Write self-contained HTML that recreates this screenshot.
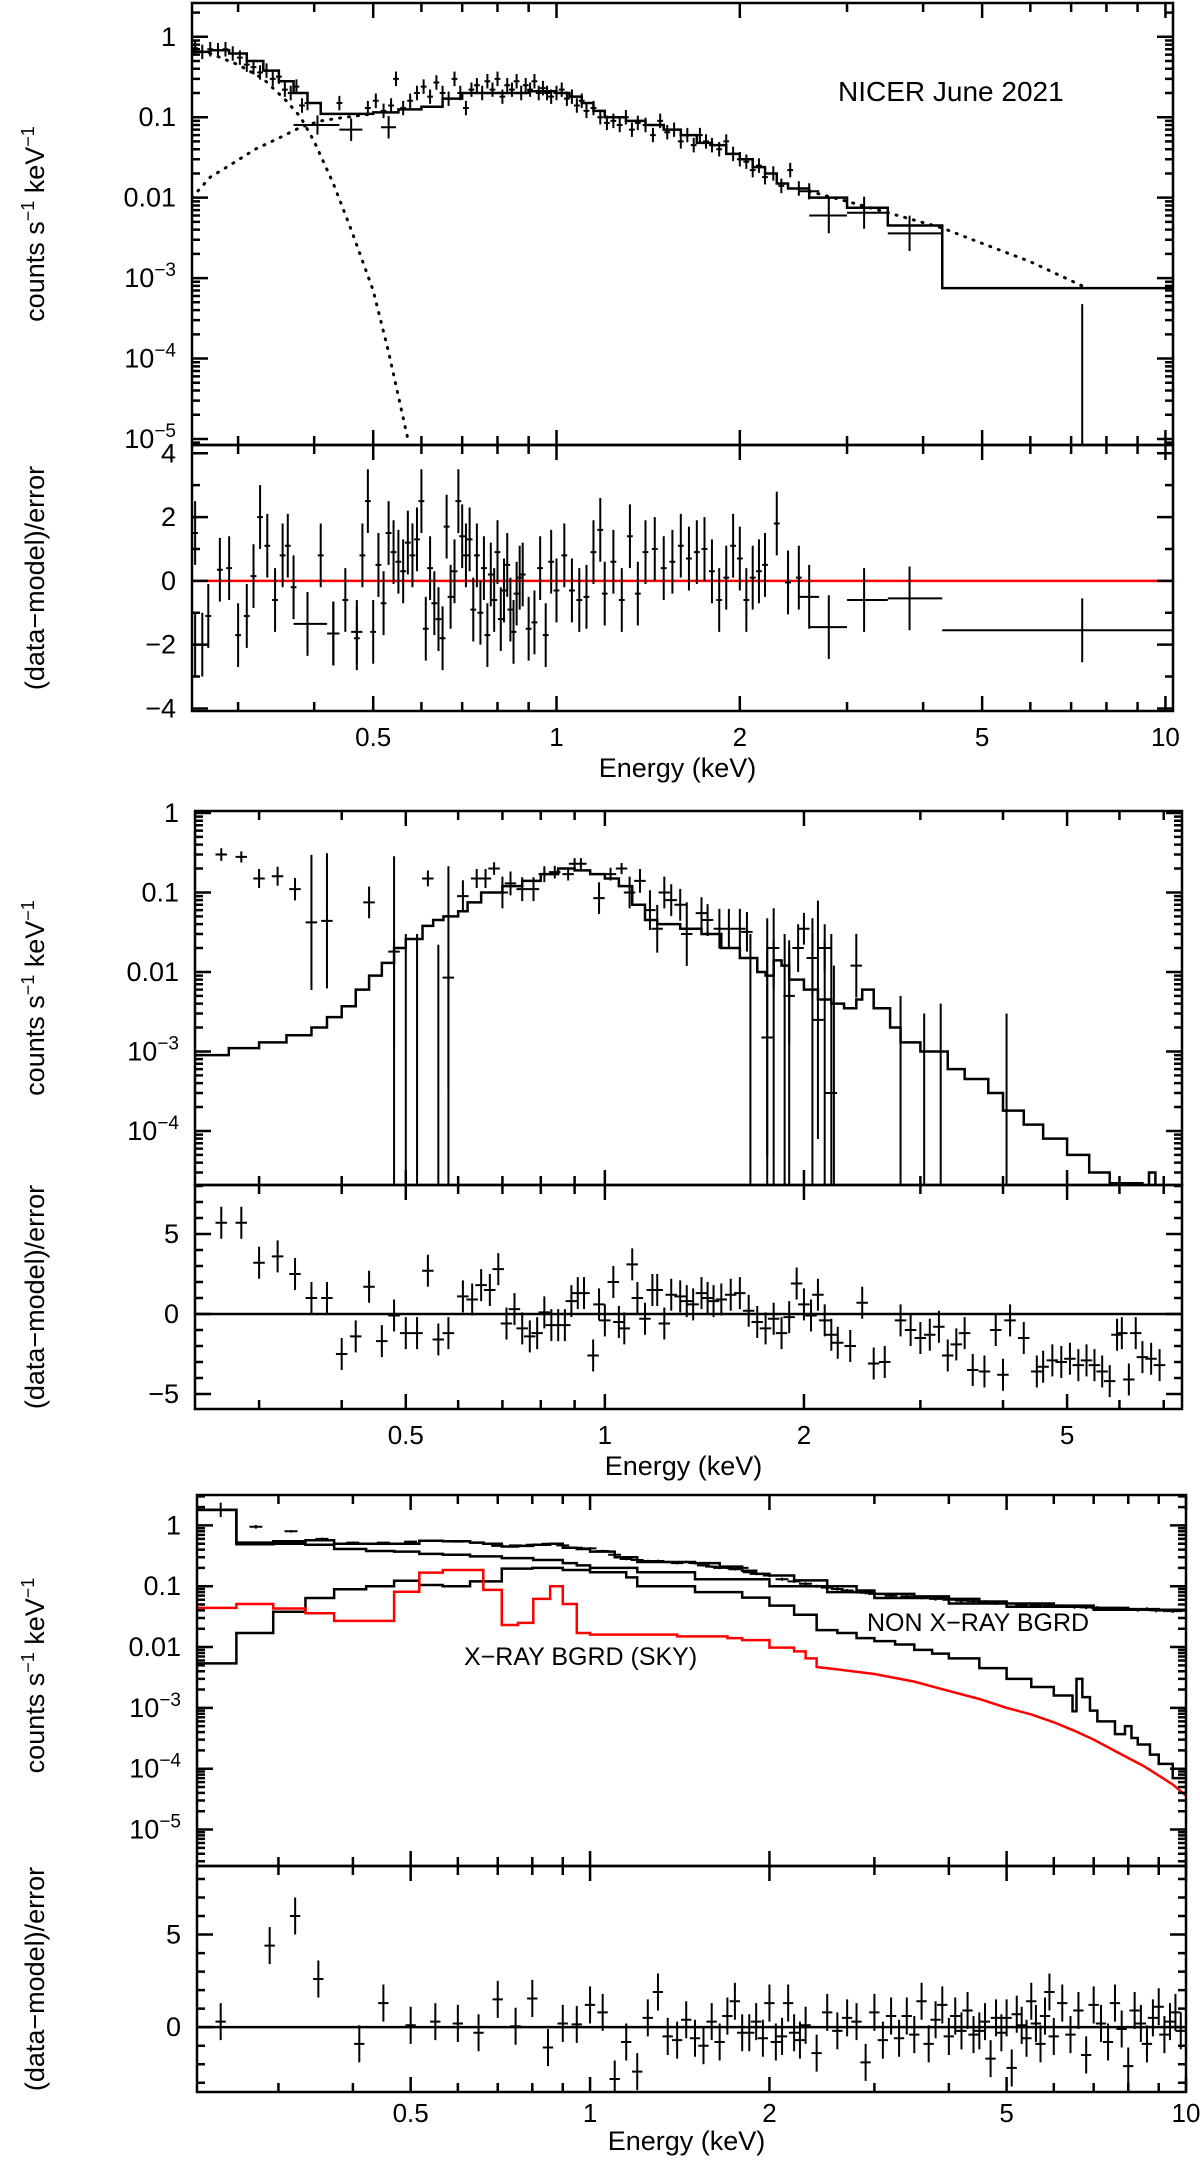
<!DOCTYPE html>
<html><head><meta charset="utf-8"><style>
html,body{margin:0;padding:0;background:#fff;}
svg{display:block;font-family:"Liberation Sans",Arial,sans-serif;}
</style></head><body>
<svg id="chart" xmlns="http://www.w3.org/2000/svg" width="1200" height="2163" viewBox="0 0 1200 2163">
<rect x="0" y="0" width="1200" height="2163" fill="#fff"/>
</svg>
<script>
// ===== Panel 1 data (NICER June 2021) =====
const P1_E=[0.255,0.262,0.27,0.278,0.286,0.294,0.302,0.31,0.318,0.326,0.334,0.342,0.35,0.358,0.366,0.374,0.382,0.39,0.44,0.49,0.505,0.52,0.535,0.545,0.56,0.575,0.59,0.605,0.62,0.635,0.65,0.665,0.68,0.695,0.71,0.725,0.74,0.755,0.77,0.785,0.8,0.815,0.83,0.845,0.86,0.875,0.89,0.905,0.92,0.935,0.95,0.965,0.98,1.0,1.02,1.04,1.06,1.08,1.1,1.12,1.15,1.18,1.21,1.24,1.27,1.3,1.33,1.36,1.4,1.44,1.48,1.52,1.56,1.6,1.64,1.68,1.72,1.76,1.8,1.85,1.9,1.95,2.0,2.05,2.1,2.15,2.2,2.27,2.34,2.42,2.5];
const P1_V=[0.72,0.65,0.7,0.68,0.7,0.62,0.55,0.45,0.42,0.36,0.38,0.3,0.32,0.22,0.2,0.24,0.14,0.15,0.15,0.13,0.16,0.12,0.14,0.3,0.13,0.16,0.2,0.24,0.18,0.27,0.2,0.17,0.3,0.2,0.13,0.22,0.25,0.2,0.28,0.22,0.3,0.18,0.25,0.22,0.28,0.2,0.25,0.22,0.28,0.2,0.23,0.2,0.18,0.2,0.22,0.17,0.18,0.14,0.16,0.12,0.13,0.1,0.085,0.09,0.08,0.1,0.07,0.085,0.08,0.06,0.09,0.065,0.07,0.05,0.06,0.045,0.06,0.05,0.045,0.04,0.05,0.035,0.03,0.028,0.022,0.025,0.018,0.02,0.014,0.022,0.013];
const P1W_E=[0.405,0.46,0.53,2.6,2.8,3.2,3.8,7.3];
const P1W_V=[0.08,0.07,0.075,0.012,0.006,0.0065,0.0036,0.000003];
const P1W_LO=[0.37,0.44,0.515,2.5,2.6,3.0,3.5,4.3];
const P1W_HI=[0.44,0.48,0.545,2.7,3.0,3.5,4.3,10.3];
const P1W_ERR=[0.12,0.14,0.14,0.1,0.22,0.2,0.22,2.2];
const P1M_E=[0.252,0.27,0.29,0.31,0.33,0.35,0.37,0.39,0.41,0.45,0.5,0.55,0.6,0.65,0.7,0.8,0.9,1.0,1.05,1.1,1.15,1.2,1.3,1.4,1.5,1.6,1.7,1.8,1.9,2.0,2.1,2.2,2.3,2.4,2.6,3.0,3.5,4.3,10.3];
const P1M_V=[0.65,0.68,0.62,0.5,0.38,0.28,0.2,0.15,0.11,0.11,0.115,0.125,0.135,0.17,0.2,0.2,0.21,0.2,0.18,0.15,0.12,0.1,0.09,0.08,0.07,0.06,0.048,0.045,0.035,0.03,0.024,0.02,0.015,0.013,0.01,0.0075,0.0045,0.00075];
const P1BB_E=[0.252,0.27,0.3,0.33,0.36,0.38,0.4,0.43,0.46,0.5,0.53,0.57];
const P1BB_V=[0.68,0.62,0.45,0.3,0.16,0.1,0.05,0.015,0.004,0.0007,0.00012,0.00001];
const P1PL_E=[0.252,0.27,0.29,0.32,0.35,0.38,0.41,0.45,0.5,2.6,3.0,3.5,4.3,5.0,6.0,7.3];
const P1PL_V=[0.01,0.018,0.025,0.04,0.055,0.075,0.09,0.1,0.11,0.012,0.009,0.0065,0.0042,0.0027,0.0016,0.0008];
const P1R_E=[0.255,0.262,0.268,0.28,0.29,0.3,0.31,0.318,0.326,0.335,0.345,0.355,0.362,0.37,0.41,0.43,0.45,0.47,0.48,0.49,0.5,0.51,0.52,0.53,0.54,0.55,0.56,0.57,0.58,0.59,0.6,0.61,0.62,0.63,0.64,0.65,0.66,0.67,0.68,0.69,0.7,0.71,0.72,0.73,0.74,0.75,0.76,0.77,0.78,0.79,0.8,0.81,0.82,0.83,0.84,0.85,0.86,0.87,0.88,0.9,0.92,0.94,0.96,0.98,1.0,1.03,1.06,1.09,1.12,1.15,1.18,1.2,1.24,1.28,1.32,1.36,1.4,1.45,1.5,1.55,1.6,1.65,1.7,1.75,1.8,1.85,1.9,1.95,2.0,2.05,2.1,2.15,2.2,2.3,2.4,2.5];
const P1R_V=[1.5,-2.0,-1.1,0.35,0.4,-1.7,-1.1,0.15,2.0,1.1,-0.6,0.8,1.1,-0.2,0.8,-1.65,-0.6,-1.8,0.8,2.5,-1.6,0.5,-0.7,1.5,0.9,0.6,0.3,1.2,0.8,1.3,2.5,-1.5,0.4,-0.7,-1.2,-1.8,1.7,-0.5,0.3,2.5,1.4,0.8,1.3,-0.9,0.8,-1.0,0.4,-1.7,0.2,-0.6,0.9,-1.2,-0.3,0.5,-0.9,-1.6,-0.4,0.1,0.2,-1.5,-1.3,0.4,-1.7,0.6,-0.3,0.8,-0.3,-0.6,-0.5,0.9,1.6,-0.4,0.6,-0.6,1.4,-0.4,0.9,1.0,0.4,0.6,1.1,0.7,0.9,1.0,0.3,-0.6,0.1,1.1,0.7,-0.6,0.1,0.3,0.5,1.8,-0.05,0.1];
const P1RW_E=[0.255,0.39,0.43,0.47,2.6,2.8,3.2,3.8,7.3];
const P1RW_V=[-2.0,-1.35,-1.65,-1.6,-0.5,-1.45,-0.6,-0.55,-1.55];
const P1RW_LO=[0.252,0.37,0.42,0.46,2.5,2.6,3.0,3.5,4.3];
const P1RW_HI=[0.26,0.42,0.44,0.48,2.7,3.0,3.5,4.3,10.3];

// ===== Panel 2 data =====
const P2_E=[0.263,0.282,0.30,0.32,0.34,0.36,0.38,0.44,0.48,0.54,0.58,0.61,0.64,0.66,0.68,0.70,0.72,0.75,0.78,0.81,0.84,0.88,0.90,0.92,0.98,1.02,1.06,1.09,1.13,1.17,1.2,1.23,1.26,1.3,1.33,1.4,1.43,1.49,1.54,1.6,1.64,1.76,1.8,1.9,1.96,2.0,2.06,2.1,2.15,2.2,2.4];
const P2_V=[0.3,0.28,0.15,0.16,0.11,0.042,0.044,0.075,0.018,0.15,0.0085,0.09,0.15,0.15,0.2,0.1,0.13,0.11,0.11,0.17,0.18,0.17,0.23,0.23,0.085,0.17,0.2,0.1,0.14,0.06,0.035,0.1,0.08,0.07,0.03,0.055,0.045,0.035,0.035,0.035,0.032,0.0015,0.02,0.005,0.02,0.035,0.015,0.0025,0.02,0.0003,0.012];
const P2_ERR=[0.08,0.07,0.12,0.12,0.14,0.85,0.85,0.2,1.2,0.1,1.4,0.2,0.12,0.12,0.08,0.2,0.15,0.15,0.15,0.1,0.08,0.08,0.07,0.07,0.2,0.08,0.07,0.2,0.15,0.25,0.3,0.2,0.2,0.2,0.4,0.2,0.2,0.25,0.25,0.25,0.25,1.5,0.5,0.6,0.3,0.2,0.5,1.5,0.3,2,0.4];
const P2L_E=[0.48,0.5,0.52,0.56,0.58,1.66,1.76,1.8,1.87,1.9,2.06,2.15,2.22,2.8,3.04,3.22,4.05];
const P2L_TOP=[0.025,0.03,0.03,0.022,0.015,0.03,0.02,0.025,0.03,0.025,0.03,0.025,0.012,0.005,0.003,0.004,0.003];
const P2M_E=[0.24,0.27,0.3,0.33,0.36,0.38,0.40,0.42,0.44,0.46,0.48,0.5,0.53,0.55,0.57,0.6,0.62,0.65,0.7,0.75,0.8,0.85,0.9,0.95,1.0,1.05,1.1,1.15,1.2,1.3,1.4,1.5,1.6,1.7,1.75,1.8,1.85,1.9,2.0,2.1,2.2,2.3,2.4,2.45,2.55,2.7,2.8,3.0,3.3,3.5,3.8,4.0,4.3,4.6,5.0,5.4,5.8,6.5,6.65,6.8,7.46];
const P2M_V=[0.0009,0.0011,0.0013,0.0016,0.002,0.0027,0.0037,0.006,0.009,0.013,0.02,0.026,0.038,0.045,0.05,0.058,0.075,0.1,0.12,0.14,0.17,0.2,0.19,0.17,0.15,0.12,0.07,0.045,0.04,0.035,0.03,0.02,0.015,0.01,0.009,0.014,0.012,0.008,0.006,0.0045,0.004,0.0035,0.0045,0.006,0.0035,0.002,0.0013,0.001,0.0006,0.00045,0.0003,0.00018,0.00012,0.00008,0.00005,0.00003,0.000022,0.000015,0.00003,0.000015];
const P2R_E=[0.263,0.282,0.30,0.32,0.34,0.36,0.38,0.40,0.42,0.44,0.46,0.48,0.50,0.52,0.54,0.56,0.58,0.61,0.63,0.65,0.67,0.69,0.71,0.73,0.75,0.77,0.79,0.81,0.83,0.85,0.87,0.89,0.91,0.93,0.96,0.98,1.0,1.03,1.05,1.07,1.10,1.12,1.15,1.18,1.2,1.23,1.26,1.3,1.33,1.36,1.4,1.43,1.46,1.5,1.55,1.6,1.65,1.7,1.75,1.8,1.85,1.9,1.95,2.0,2.05,2.1,2.15,2.2,2.25,2.35,2.45,2.55,2.65,2.8,2.9,3.0,3.1,3.2,3.3,3.4,3.5,3.6,3.75,3.9,4.0,4.1,4.3,4.5,4.6,4.75,4.9,5.05,5.2,5.35,5.5,5.65,5.8,5.95,6.05,6.2,6.35,6.5,6.7,6.9];
const P2R_V=[5.7,5.7,3.2,3.6,2.5,1.0,1.0,-2.5,-1.4,1.7,-1.7,-0.1,-1.2,-1.2,2.7,-1.6,-1.2,1.1,0.9,1.8,1.5,2.8,-0.6,0.3,-0.9,-1.4,-1.2,0.1,-0.7,-0.7,-0.7,0.8,1.3,1.3,-2.6,0.6,-0.4,2.0,-0.5,-0.9,3.1,1.0,-0.3,1.5,1.5,-0.6,1.2,1.1,0.8,0.6,1.3,1.0,0.8,0.9,1.2,1.3,0.2,-0.5,-0.9,-0.3,-1.2,-0.2,1.9,0.6,-0.1,1.2,-0.4,-1.3,-1.8,-2.0,0.7,-3.1,-3.0,-0.4,-1.0,-1.5,-1.3,-0.8,-2.6,-1.9,-1.2,-3.5,-3.6,-1.0,-3.8,-0.4,-1.5,-3.6,-3.3,-2.9,-3.0,-2.8,-3.2,-2.9,-3.2,-3.6,-4.2,-1.3,-1.2,-4.1,-1.2,-2.7,-2.8,-3.2];

// ===== Panel 3 data =====
const P3_E=[0.24,0.275,0.315,0.355,0.4,0.45,0.5,0.55,0.6,0.65,0.7,0.75,0.8,0.85,0.9,0.95,1.0,1.05,1.1,1.15,1.2,1.25,1.3,1.35,1.4,1.45,1.5,1.55,1.6,1.65,1.7,1.75,1.8,1.85,1.9,1.95,2.0,2.1,2.2,2.3,2.4,2.5,2.6,2.7,2.8,2.9,3.0,3.2,3.4,3.6,3.8,4.0,4.2,4.4,4.6,4.8,5.0,5.3,5.6,5.9,6.2,6.5,6.8,7.1,7.4,7.7,8.0,8.3,8.6,8.9,9.2,9.5,9.8];
const P3_V=[1.8,0.95,0.8,0.6,0.52,0.52,0.54,0.56,0.54,0.52,0.46,0.47,0.48,0.5,0.47,0.43,0.42,0.38,0.33,0.28,0.27,0.26,0.26,0.25,0.24,0.25,0.24,0.22,0.21,0.2,0.2,0.19,0.2,0.17,0.16,0.16,0.15,0.13,0.12,0.11,0.1,0.095,0.09,0.085,0.08,0.078,0.075,0.07,0.068,0.065,0.062,0.06,0.058,0.057,0.055,0.053,0.052,0.05,0.05,0.048,0.047,0.046,0.045,0.044,0.043,0.043,0.042,0.041,0.042,0.04,0.04,0.039,0.04];
const P3_ERR=[0.12,0.03,0.02,0.02,0.02,0.015,0.015,0.015,0.015,0.015,0.015,0.015,0.015,0.015,0.015,0.015,0.02,0.02,0.02,0.02,0.02,0.02,0.02,0.02,0.02,0.02,0.02,0.02,0.02,0.02,0.02,0.02,0.02,0.02,0.02,0.02,0.025,0.025,0.025,0.025,0.025,0.025,0.025,0.025,0.025,0.025,0.03,0.03,0.03,0.03,0.03,0.03,0.03,0.03,0.03,0.03,0.03,0.03,0.03,0.03,0.03,0.03,0.03,0.03,0.03,0.03,0.03,0.03,0.03,0.03,0.03,0.03,0.03];
const P3T_E=[0.219,0.255,0.294,0.333,0.372,0.421,0.469,0.517,0.566,0.629,0.662,0.711,0.757,0.803,0.857,0.9,0.95,1.0,1.1,1.2,1.35,1.5,1.65,1.8,1.9,2.0,2.2,2.5,2.8,3.0,3.5,4.0,4.5,5.0,6.0,7.0,8.0,9.0,10.0];
const P3T_V=[1.8,0.52,0.55,0.57,0.5,0.5,0.5,0.56,0.55,0.52,0.5,0.45,0.46,0.48,0.5,0.43,0.41,0.37,0.3,0.25,0.25,0.24,0.21,0.18,0.16,0.15,0.125,0.1,0.085,0.075,0.068,0.062,0.056,0.052,0.048,0.044,0.042,0.04];
const P3N_E=[0.219,0.255,0.294,0.333,0.372,0.421,0.469,0.517,0.566,0.629,0.711,0.803,0.9,0.95,1.0,1.2,1.5,2.0,2.5,3.0,4.0,5.0,7.0,10.0];
const P3N_V=[1.8,0.49,0.5,0.48,0.41,0.38,0.37,0.34,0.33,0.31,0.29,0.27,0.24,0.22,0.2,0.17,0.13,0.1,0.08,0.064,0.052,0.046,0.041];
const P3S_E=[0.219,0.255,0.294,0.333,0.372,0.421,0.469,0.517,0.566,0.629,0.711,0.8,0.9,1.0,1.15,1.2,1.5,1.8,2.0,2.2,2.4,2.6,2.8,3.0,3.25,3.5,3.75,4.0,4.5,5.0,5.5,6.0,6.45,6.55,6.7,6.9,7.1,7.6,7.9,8.1,8.3,8.7,9.0,9.5,10.0];
const P3S_V=[0.0054,0.017,0.038,0.064,0.089,0.1,0.123,0.105,0.1,0.12,0.195,0.2,0.185,0.17,0.14,0.1,0.08,0.065,0.048,0.034,0.019,0.017,0.014,0.0125,0.011,0.009,0.0078,0.0065,0.0045,0.003,0.0022,0.0016,0.00088,0.003,0.0015,0.0009,0.0006,0.00037,0.0005,0.00032,0.00025,0.00017,0.00012,0.00007];
const P3X_E=[0.219,0.255,0.294,0.333,0.372,0.469,0.517,0.566,0.662,0.711,0.757,0.803,0.857,0.9,0.95,1.0,1.4,1.7,1.8,2.0,2.2,2.3,2.4];
const P3X_V=[0.044,0.051,0.043,0.036,0.027,0.081,0.167,0.185,0.087,0.023,0.025,0.062,0.1,0.051,0.017,0.016,0.015,0.014,0.013,0.0098,0.0085,0.0065];
const P3XC_E=[2.4,2.6,3.0,3.5,4.0,4.5,5.0,5.5,6.0,6.5,7.0,7.5,8.0,8.5,9.0,9.5,10.0];
const P3XC_V=[0.0047,0.0043,0.0036,0.0027,0.0019,0.0014,0.001,0.00078,0.00058,0.00042,0.0003,0.00021,0.00015,0.00011,0.000077,0.000055,0.000036];
const P3R_E=[0.24,0.29,0.32,0.35,0.41,0.45,0.5,0.55,0.6,0.65,0.7,0.75,0.8,0.85,0.9,0.95,1.0,1.05,1.1,1.15,1.2,1.25,1.3,1.35,1.4,1.45,1.5,1.55,1.6,1.65,1.7,1.75,1.8,1.85,1.9,1.95,2.0,2.05,2.1,2.15,2.2,2.25,2.3,2.4,2.5,2.6,2.7,2.8,2.9,3.0,3.1,3.2,3.3,3.4,3.5,3.6,3.7,3.8,3.9,4.0,4.1,4.2,4.3,4.4,4.5,4.6,4.7,4.8,4.9,5.0,5.1,5.2,5.3,5.4,5.5,5.6,5.7,5.8,5.9,6.0,6.2,6.4,6.6,6.8,7.0,7.2,7.4,7.6,7.8,8.0,8.2,8.4,8.6,8.8,9.0,9.2,9.4,9.6,9.8];
const P3R_V=[0.3,4.4,6.0,2.6,-0.9,1.3,0.1,0.3,0.2,-0.3,1.5,0.05,1.55,-1.1,0.2,0.15,1.2,0.8,-2.8,-0.8,-2.4,0.5,1.9,-0.5,-0.7,0.4,-0.6,-1.0,0.3,-0.8,0.6,1.4,-0.3,-0.3,0.3,-0.6,1.3,-0.8,-0.5,1.3,-0.3,-0.7,0.1,-1.4,0.8,-0.2,0.5,0.3,-1.9,0.8,-0.7,0.6,-0.6,0.6,-0.4,1.4,-0.9,0.4,1.2,-0.5,0.6,-0.2,0.9,-0.4,-0.2,0.3,-1.7,0.5,-0.3,0.5,-2.2,0.7,0.1,-0.6,1.4,0.2,-0.9,0.6,1.9,-0.5,1.3,-0.4,0.9,-1.5,1.2,0.2,-0.8,1.3,-0.1,-2.1,0.9,0.2,-0.9,0.5,1.1,-0.4,0.3,0.8,-0.2];

// ===== drawing helpers =====
const NS="http://www.w3.org/2000/svg";
const svg=document.getElementById('chart');
function mk(tag,parent){const e=document.createElementNS(NS,tag);(parent||svg).appendChild(e);return e;}
function logx(cfg,E){return cfg.L+(Math.log10(E)-Math.log10(cfg.xmin))/(Math.log10(cfg.xmax)-Math.log10(cfg.xmin))*(cfg.R-cfg.L);}
function logy(cfg,v){return cfg.mid-(Math.log10(v)-cfg.ylo)/(cfg.yhi-cfg.ylo)*(cfg.mid-cfg.T);}
function resy(cfg,v){return cfg.B-(v-cfg.rlo)/(cfg.rhi-cfg.rlo)*(cfg.B-cfg.mid);}

function frame(cfg,g,yt,rt,xl){
  [[cfg.T,cfg.mid],[cfg.mid,cfg.B]].forEach((s,i)=>{
    const r=mk('rect',g);r.setAttribute('x',cfg.L);r.setAttribute('y',s[0]);r.setAttribute('width',cfg.R-cfg.L);r.setAttribute('height',s[1]-s[0]);
    r.setAttribute('fill','none');r.setAttribute('stroke','#000');r.setAttribute('stroke-width','2.5');
    
    
  });
  let d='';
  const xt=[0.2,0.3,0.4,0.5,0.6,0.7,0.8,0.9,1,2,3,4,5,6,7,8,9,10];
  xt.forEach(e=>{ if(e<cfg.xmin||e>cfg.xmax*1.001) return; const x=logx(cfg,e); const maj=[0.5,1,2,5,10].indexOf(e)>=0; const L=maj?15:9;
    [cfg.T,cfg.mid,cfg.B].forEach((y,i)=>{ if(i<2) d+=`M${x},${y}v${L}`; if(i>0) d+=`M${x},${y}v${-L}`; });
  });
  for(let dec=Math.floor(cfg.ylo);dec<=Math.ceil(cfg.yhi);dec++){
    for(let m=1;m<10;m++){const lv=dec+Math.log10(m); if(lv<cfg.ylo||lv>cfg.yhi) continue; const y=logy(cfg,Math.pow(10,lv)); const L=m===1?16:8;
      d+=`M${cfg.L},${y}h${L}M${cfg.R},${y}h${-L}`;}
  }
  for(let v=Math.ceil(cfg.rlo);v<=cfg.rhi;v++){const y=resy(cfg,v); const L=(v%cfg.rstep===0)?16:8; d+=`M${cfg.L},${y}h${L}M${cfg.R},${y}h${-L}`;}
  const p=mk('path',g);p.setAttribute('d',d);p.setAttribute('stroke','#000');p.setAttribute('stroke-width','2.5');p.setAttribute('fill','none');
  
  
  yt.forEach(t=>{const y=logy(cfg,Math.pow(10,t[0])); const tx=mk('text',g); tx.setAttribute('x',cfg.L-16); tx.setAttribute('y',y+9); tx.setAttribute('font-size','27'); tx.setAttribute('text-anchor','end');
    if(t[1]){tx.textContent='10'; const s=mk('tspan',tx); s.setAttribute('font-size','19'); s.setAttribute('dy','-11'); s.textContent=t[1];}
    else tx.textContent=t[2];
    
    });
  rt.forEach(t=>{const y=resy(cfg,t[0]); const tx=mk('text',g); tx.setAttribute('x',cfg.L-16); tx.setAttribute('y',y+9); tx.setAttribute('font-size','27'); tx.setAttribute('text-anchor','end'); tx.textContent=t[1];
    
    });
  xl.forEach(t=>{const x=logx(cfg,t[0]); const tx=mk('text',g); tx.setAttribute('x',x); tx.setAttribute('y',cfg.B+cfg.tlOff); tx.setAttribute('font-size','26'); tx.setAttribute('text-anchor','middle'); tx.textContent=t[1];
    
    });
  const xtitle=mk('text',g); xtitle.setAttribute('x',(cfg.L+cfg.R)/2-5); xtitle.setAttribute('y',cfg.B+cfg.xtOff); xtitle.setAttribute('font-size','27'); xtitle.setAttribute('text-anchor','middle'); xtitle.textContent='Energy (keV)';
  
  
  const yc=(cfg.T+cfg.mid)/2+cfg.ylabOff; const yl=mk('text',g); yl.setAttribute('transform',`translate(44,${yc}) rotate(-90)`); yl.setAttribute('font-size','27'); yl.setAttribute('text-anchor','middle');
  yl.textContent='counts s'; const s1=mk('tspan',yl); s1.setAttribute('font-size','18'); s1.setAttribute('dy','-10'); s1.textContent='−1';
  const s2=mk('tspan',yl); s2.setAttribute('dy','10'); s2.textContent=' keV'; const s3=mk('tspan',yl); s3.setAttribute('font-size','18'); s3.setAttribute('dy','-10'); s3.textContent='−1';
  
  
  const rl=mk('text',g); rl.setAttribute('transform',`translate(44,${(cfg.mid+cfg.B)/2}) rotate(-90)`); rl.setAttribute('font-size','27'); rl.setAttribute('text-anchor','middle'); rl.textContent='(data−model)/error';
  
  
}
function clip(cfg,id,y0,y1){const c=mk('clipPath');c.setAttribute('id',id);const r=mk('rect',c);r.setAttribute('x',cfg.L);r.setAttribute('y',y0);r.setAttribute('width',cfg.R-cfg.L);r.setAttribute('height',y1-y0);return `url(#${id})`;}
function stepPath(cfg,E,V){let d=`M${logx(cfg,E[0])},${logy(cfg,V[0])}`;for(let i=0;i<V.length;i++){d+=`H${logx(cfg,E[i+1])}`;if(i+1<V.length)d+=`V${logy(cfg,V[i+1])}`;}return d;}
function linePath(cfg,E,V){return E.map((e,i)=>(i?'L':'M')+logx(cfg,e)+','+logy(cfg,V[i])).join('');}
function addPath(g,d,color,w,dash,name){const p=mk('path',g);p.setAttribute('d',d);p.setAttribute('stroke',color);p.setAttribute('stroke-width',w);p.setAttribute('fill','none');if(dash){p.setAttribute('stroke-dasharray',dash);p.setAttribute('stroke-linecap','round');}
  
  return p;}
function crossesLog(cfg,E,V,ERR,hw,lo,hi){let d='';E.forEach((e,i)=>{const x0=lo?logx(cfg,lo[i]):logx(cfg,e*(1-hw)),x1=hi?logx(cfg,hi[i]):logx(cfg,e*(1+hw));const y=logy(cfg,V[i]);const er=ERR[i];
  const ya=logy(cfg,V[i]*Math.pow(10,er)), yb=Math.min(logy(cfg,V[i]/Math.pow(10,er*1.0)),cfg.mid);
  d+=`M${x0},${y}H${x1}M${logx(cfg,e)},${ya}V${yb}`;});return d;}
function crossesRes(cfg,E,V,err,hw,lo,hi){let d='';E.forEach((e,i)=>{const x0=lo?logx(cfg,lo[i]):logx(cfg,e*(1-hw)),x1=hi?logx(cfg,hi[i]):logx(cfg,e*(1+hw));const y=resy(cfg,V[i]);
  d+=`M${x0},${y}H${x1}M${logx(cfg,e)},${resy(cfg,V[i]+err)}V${resy(cfg,V[i]-err)}`;});return d;}
function zeroLine(cfg,g,color){const l=mk('line',g);l.setAttribute('x1',cfg.L);l.setAttribute('x2',cfg.R);l.setAttribute('y1',resy(cfg,0));l.setAttribute('y2',resy(cfg,0));l.setAttribute('stroke',color);l.setAttribute('stroke-width','2.5');
  
  }
function const1(n,v){return new Array(n).fill(v);}

// ===== Panel 1 =====
const C1={L:192,R:1173,T:3,mid:445,B:711,xmin:0.252,xmax:10.29,ylo:-5.075,yhi:0.42,rlo:-4.08,rhi:4.26,rstep:2,ylabOff:0,tlOff:35,xtOff:66};
const g1=mk('g');
const cl1=clip(C1,'c1',C1.T,C1.mid), cr1=clip(C1,'r1',C1.mid,C1.B);
const gd1=mk('g',g1);gd1.setAttribute('clip-path',cl1);
addPath(gd1,linePath(C1,P1BB_E,P1BB_V),'#000',3,'1 8','blackbody-component-dotted');
addPath(gd1,linePath(C1,P1PL_E.slice(0,9),P1PL_V.slice(0,9))+linePath(C1,P1PL_E.slice(9),P1PL_V.slice(9)),'#000',3,'1 8','second-component-dotted');
addPath(gd1,stepPath(C1,P1M_E,P1M_V),'#000',2.5,null,'model-step-line');
addPath(gd1,crossesLog(C1,P1_E,P1_V,const1(P1_E.length,0.09),0.011),'#000',2,null,'spectrum-data-points');
addPath(gd1,crossesLog(C1,P1W_E,P1W_V,P1W_ERR,0,P1W_LO,P1W_HI),'#000',2,null,'spectrum-wide-bins');
const gr1=mk('g',g1);gr1.setAttribute('clip-path',cr1);
zeroLine(C1,gr1,'#ff0000');
addPath(gr1,crossesRes(C1,P1R_E,P1R_V,1.0,0.011),'#000',2,null,'residual-points');
addPath(gr1,crossesRes(C1,P1RW_E,P1RW_V,1.0,0,P1RW_LO,P1RW_HI),'#000',2,null,'residual-wide-bins');
frame(C1,g1,[[0,null,'1'],[-1,null,'0.1'],[-2,null,'0.01'],[-3,'−3'],[-4,'−4'],[-5,'−5']],[[4,'4'],[2,'2'],[0,'0'],[-2,'−2'],[-4,'−4']],[[0.5,'0.5'],[1,'1'],[2,'2'],[5,'5'],[10,'10']]);
const tt=mk('text',g1);tt.setAttribute('x',838);tt.setAttribute('y',101);tt.setAttribute('font-size','28');tt.textContent='NICER June 2021';



// ===== Panel 2 =====
const C2={L:195,R:1182,T:811,mid:1185,B:1409,xmin:0.24,xmax:7.46,ylo:-4.68,yhi:0.025,rlo:-5.94,rhi:8.06,rstep:5,ylabOff:0,tlOff:35,xtOff:66};
const g2=mk('g');
const cl2=clip(C2,'c2',C2.T,C2.mid), cr2=clip(C2,'r2',C2.mid,C2.B);
const gd2=mk('g',g2);gd2.setAttribute('clip-path',cl2);
addPath(gd2,stepPath(C2,P2M_E,P2M_V),'#000',2.5,null,'model-step-line');
addPath(gd2,crossesLog(C2,P2_E,P2_V,P2_ERR,0.02),'#000',2,null,'spectrum-data-points');
let dl='';P2L_E.forEach((e,i)=>{dl+=`M${logx(C2,e)},${logy(C2,P2L_TOP[i])}V${C2.mid}`;});
addPath(gd2,dl,'#000',2,null,'upper-limit-error-bars');
const gr2=mk('g',g2);gr2.setAttribute('clip-path',cr2);
zeroLine(C2,gr2,'#000');
addPath(gr2,crossesRes(C2,P2R_E,P2R_V,1.0,0.02),'#000',2,null,'residual-points');
frame(C2,g2,[[0,null,'1'],[-1,null,'0.1'],[-2,null,'0.01'],[-3,'−3'],[-4,'−4']],[[5,'5'],[0,'0'],[-5,'−5']],[[0.5,'0.5'],[1,'1'],[2,'2'],[5,'5']]);

// ===== Panel 3 =====
const C3={L:197,R:1186,T:1495,mid:1866,B:2092,xmin:0.219,xmax:10,ylo:-5.6,yhi:0.5,rlo:-3.5,rhi:8.7,rstep:5,ylabOff:-5,tlOff:30,xtOff:58};
const g3=mk('g');
const cl3=clip(C3,'c3',C3.T,C3.mid), cr3=clip(C3,'r3',C3.mid,C3.B);
const gd3=mk('g',g3);gd3.setAttribute('clip-path',cl3);
addPath(gd3,stepPath(C3,P3N_E,P3N_V),'#000',2.5,null,'non-xray-background-model');
addPath(gd3,stepPath(C3,P3S_E,P3S_V),'#000',2.5,null,'source-model');
addPath(gd3,stepPath(C3,P3X_E,P3X_V)+linePath(C3,P3XC_E,P3XC_V).replace(/^M/,'L'),'#ff0000',2.5,null,'xray-sky-background-model');
addPath(gd3,stepPath(C3,P3T_E,P3T_V),'#000',2.5,null,'total-model');
addPath(gd3,crossesLog(C3,P3_E,P3_V,P3_ERR,0.025),'#000',2,null,'spectrum-data-points');
const gr3=mk('g',g3);gr3.setAttribute('clip-path',cr3);
zeroLine(C3,gr3,'#000');
addPath(gr3,crossesRes(C3,P3R_E,P3R_V,1.0,0.02),'#000',2,null,'residual-points');
frame(C3,g3,[[0,null,'1'],[-1,null,'0.1'],[-2,null,'0.01'],[-3,'−3'],[-4,'−4'],[-5,'−5']],[[5,'5'],[0,'0']],[[0.5,'0.5'],[1,'1'],[2,'2'],[5,'5'],[10,'10']]);
const l1=mk('text',g3);l1.setAttribute('x',867);l1.setAttribute('y',1631);l1.setAttribute('font-size','25');l1.textContent='NON X−RAY BGRD';


const l2=mk('text',g3);l2.setAttribute('x',464);l2.setAttribute('y',1665);l2.setAttribute('font-size','25');l2.textContent='X−RAY BGRD (SKY)';


</script>
</body></html>
